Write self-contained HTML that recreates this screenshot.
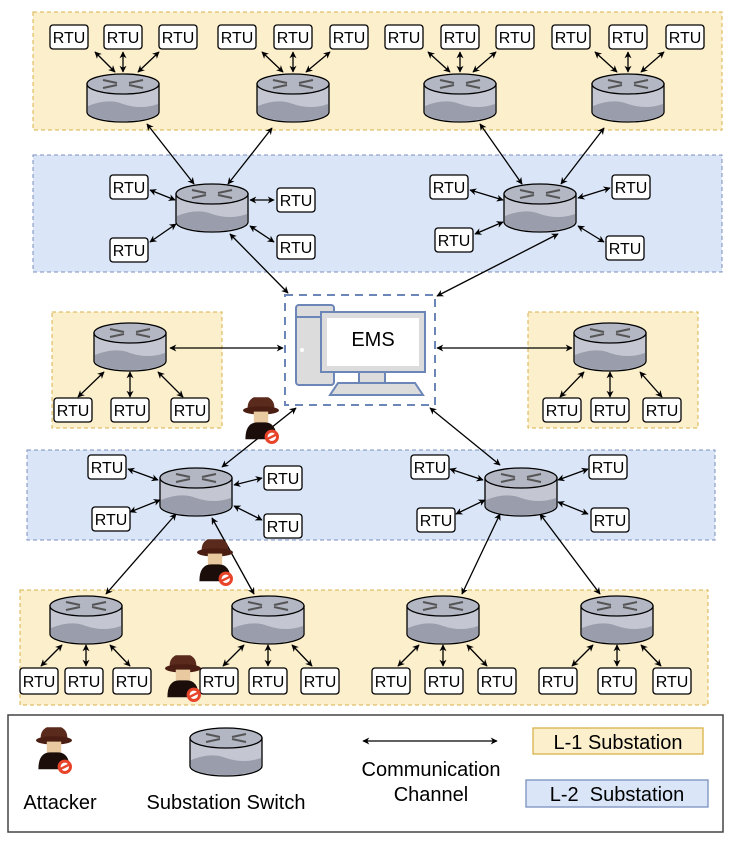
<!DOCTYPE html>
<html><head><meta charset="utf-8"><style>
body{margin:0;background:#fff}
svg{display:block;font-family:"Liberation Sans",sans-serif}
.r rect{fill:#fff;stroke:#000;stroke-width:1.3}
.r text{font-size:16px;text-anchor:middle}
.a{stroke:#000;stroke-width:1.3;fill:none;marker-start:url(#ah);marker-end:url(#ah)}
.lg{font-size:20px;text-anchor:middle}
</style></head><body>
<svg width="735" height="843" viewBox="0 0 735 843">
<defs>
<marker id="ah" viewBox="0 0 10 10" refX="9" refY="5" markerWidth="7" markerHeight="7" orient="auto-start-reverse" markerUnits="userSpaceOnUse"><path d="M0,0L10,5L0,10L3,5z" fill="#000"/></marker>
<g id="sw">
<path d="M-36,0 V28 A36,10 0 0 0 36,28 V0 Z" fill="#c4c7d2" stroke="#000" stroke-width="1.3"/>
<path d="M-35,22 Q-15,14 0,20 Q18,26 35,20 V28 A35,9 0 0 1 -35,28Z" fill="#9a9dab"/>
<ellipse cx="0" cy="0" rx="36" ry="10" fill="#b3b6c3" stroke="#000" stroke-width="1.3"/>
<path d="M-20,-4 L-6,-1 M20,4 L6,1 M20,-4 L6,-1 M-20,4 L-6,1" stroke="#555" stroke-width="2"/>
</g>
<g id="atk0">
<path d="M-11,2 Q-12,-6 -6,-9 L6,-9 Q12,-6 11,2" fill="#5a2a1c"/>
<ellipse cx="0" cy="2" rx="15" ry="3.5" fill="#4a1e12"/>
<rect x="-6" y="3" width="12" height="11" fill="#e8c9a0"/>
<path d="M-13,26 Q-13,12 -3,12 L3,12 Q13,12 13,26Z" fill="#1a0d0a"/>
<circle cx="9" cy="24" r="6" fill="#e8442a"/><circle cx="9" cy="24" r="3.5" fill="#fff"/><path d="M5,26 L13,22" stroke="#e8442a" stroke-width="2"/>
</g>
<g id="atk"><use href="#atk0" transform="scale(1.2)"/></g>
</defs>

<rect x="33" y="12" width="689" height="118" fill="#fcefcc" stroke="#d8b24a" stroke-dasharray="4,3"/>
<rect x="33" y="155" width="689" height="117" fill="#dae6f7" stroke="#7a8fbf" stroke-dasharray="4,3"/>
<rect x="52" y="312" width="170" height="116" fill="#fcefcc" stroke="#d8b24a" stroke-dasharray="4,3"/>
<rect x="528" y="312" width="170" height="116" fill="#fcefcc" stroke="#d8b24a" stroke-dasharray="4,3"/>
<rect x="27" y="450" width="688" height="90" fill="#dae6f7" stroke="#7a8fbf" stroke-dasharray="4,3"/>
<rect x="20" y="590" width="688" height="115" fill="#fcefcc" stroke="#d8b24a" stroke-dasharray="4,3"/>
<rect x="8" y="715" width="715" height="117" fill="#fff" stroke="#444" stroke-width="1.5"/>

<g class="a">
<path d="M95,52 L115,72"/><path d="M123,52 V72"/><path d="M159,52 L138,72"/>
<path d="M262,52 L283,72"/><path d="M293,52 V72"/><path d="M330,52 L306,72"/>
<path d="M428,52 L450,72"/><path d="M460,52 V72"/><path d="M496,52 L473,72"/>
<path d="M595,52 L617,72"/><path d="M628,52 V72"/><path d="M664,52 L641,72"/>
<path d="M147,124 L194,184"/><path d="M272,128 L228,184"/>
<path d="M480,124 L522,184"/><path d="M604,128 L561,184"/>
<path d="M150,190 L175,200"/><path d="M274,200 L250,200"/><path d="M150,242 L176,224"/><path d="M274,242 L250,226"/>
<path d="M470,190 L503,200"/><path d="M610,188 L578,198"/><path d="M475,234 L503,222"/><path d="M604,242 L578,226"/>
<path d="M230,234 L288,293"/><path d="M558,234 L437,296"/>
<path d="M170,348 L283,348"/><path d="M437,348 L572,348"/>
<path d="M104,372 L78,397"/><path d="M130,372 V397"/><path d="M158,372 L183,397"/>
<path d="M584,372 L560,397"/><path d="M610,372 V397"/><path d="M640,372 L662,397"/>
<path d="M296,408 L222,467"/><path d="M430,408 L500,465"/>
<path d="M128,469 L158,480"/><path d="M262,478 L234,485"/><path d="M130,512 L160,500"/><path d="M262,520 L234,506"/>
<path d="M450,469 L483,480"/><path d="M588,469 L558,480"/><path d="M456,514 L485,500"/><path d="M588,514 L558,502"/>
<path d="M176,514 L106,594"/><path d="M212,518 L254,594"/>
<path d="M500,514 L462,594"/><path d="M540,514 L600,594"/>
<g id="bl"><path d="M62,645 L41,666"/><path d="M86,645 V666"/><path d="M110,645 L130,666"/></g>
<use href="#bl" x="182"/><use href="#bl" x="357"/><use href="#bl" x="531"/>
<path d="M363,741 L497,741"/>
</g>

<use href="#sw" x="123" y="84"/><use href="#sw" x="293" y="84"/><use href="#sw" x="460" y="84"/><use href="#sw" x="628" y="84"/>
<use href="#sw" x="212" y="194"/><use href="#sw" x="540" y="194"/>
<use href="#sw" x="130" y="333"/><use href="#sw" x="610" y="333"/>
<use href="#sw" x="196" y="478"/><use href="#sw" x="521" y="478"/>
<use href="#sw" x="86" y="606"/><use href="#sw" x="268" y="606"/><use href="#sw" x="443" y="606"/><use href="#sw" x="617" y="606"/>
<use href="#sw" x="226" y="738"/>

<g class="r">
<rect x="50" y="25" width="38" height="24" rx="3"/><text x="69" y="43">RTU</text>
<rect x="104" y="25" width="38" height="24" rx="3"/><text x="123" y="43">RTU</text>
<rect x="159" y="25" width="38" height="24" rx="3"/><text x="178" y="43">RTU</text>
<rect x="218" y="25" width="38" height="24" rx="3"/><text x="237" y="43">RTU</text>
<rect x="274" y="25" width="38" height="24" rx="3"/><text x="293" y="43">RTU</text>
<rect x="330" y="25" width="38" height="24" rx="3"/><text x="349" y="43">RTU</text>
<rect x="385" y="25" width="38" height="24" rx="3"/><text x="404" y="43">RTU</text>
<rect x="441" y="25" width="38" height="24" rx="3"/><text x="460" y="43">RTU</text>
<rect x="496" y="25" width="38" height="24" rx="3"/><text x="515" y="43">RTU</text>
<rect x="552" y="25" width="38" height="24" rx="3"/><text x="571" y="43">RTU</text>
<rect x="609" y="25" width="38" height="24" rx="3"/><text x="628" y="43">RTU</text>
<rect x="666" y="25" width="38" height="24" rx="3"/><text x="685" y="43">RTU</text>
<rect x="110" y="175" width="38" height="24" rx="3"/><text x="129" y="193">RTU</text>
<rect x="277" y="188" width="38" height="24" rx="3"/><text x="296" y="206">RTU</text>
<rect x="110" y="238" width="38" height="24" rx="3"/><text x="129" y="256">RTU</text>
<rect x="277" y="235" width="38" height="24" rx="3"/><text x="296" y="253">RTU</text>
<rect x="430" y="175" width="38" height="24" rx="3"/><text x="449" y="193">RTU</text>
<rect x="612" y="175" width="38" height="24" rx="3"/><text x="631" y="193">RTU</text>
<rect x="435" y="228" width="38" height="24" rx="3"/><text x="454" y="246">RTU</text>
<rect x="606" y="236" width="38" height="24" rx="3"/><text x="625" y="254">RTU</text>
<rect x="54" y="398" width="38" height="24" rx="3"/><text x="73" y="416">RTU</text>
<rect x="111" y="398" width="38" height="24" rx="3"/><text x="130" y="416">RTU</text>
<rect x="171" y="398" width="38" height="24" rx="3"/><text x="190" y="416">RTU</text>
<rect x="543" y="398" width="38" height="24" rx="3"/><text x="562" y="416">RTU</text>
<rect x="591" y="398" width="38" height="24" rx="3"/><text x="610" y="416">RTU</text>
<rect x="643" y="398" width="38" height="24" rx="3"/><text x="662" y="416">RTU</text>
<rect x="88" y="455" width="38" height="24" rx="3"/><text x="107" y="473">RTU</text>
<rect x="264" y="466" width="38" height="24" rx="3"/><text x="283" y="484">RTU</text>
<rect x="92" y="507" width="38" height="24" rx="3"/><text x="111" y="525">RTU</text>
<rect x="264" y="514" width="38" height="24" rx="3"/><text x="283" y="532">RTU</text>
<rect x="411" y="455" width="38" height="24" rx="3"/><text x="430" y="473">RTU</text>
<rect x="589" y="455" width="38" height="24" rx="3"/><text x="608" y="473">RTU</text>
<rect x="417" y="508" width="38" height="24" rx="3"/><text x="436" y="526">RTU</text>
<rect x="591" y="508" width="38" height="24" rx="3"/><text x="610" y="526">RTU</text>
<rect x="20" y="668" width="38" height="26" rx="3"/><text x="39" y="687">RTU</text>
<rect x="65" y="668" width="38" height="26" rx="3"/><text x="84" y="687">RTU</text>
<rect x="113" y="668" width="38" height="26" rx="3"/><text x="132" y="687">RTU</text>
<rect x="200" y="668" width="38" height="26" rx="3"/><text x="219" y="687">RTU</text>
<rect x="249" y="668" width="38" height="26" rx="3"/><text x="268" y="687">RTU</text>
<rect x="301" y="668" width="38" height="26" rx="3"/><text x="320" y="687">RTU</text>
<rect x="372" y="668" width="38" height="26" rx="3"/><text x="391" y="687">RTU</text>
<rect x="425" y="668" width="38" height="26" rx="3"/><text x="444" y="687">RTU</text>
<rect x="478" y="668" width="38" height="26" rx="3"/><text x="497" y="687">RTU</text>
<rect x="539" y="668" width="38" height="26" rx="3"/><text x="558" y="687">RTU</text>
<rect x="598" y="668" width="38" height="26" rx="3"/><text x="617" y="687">RTU</text>
<rect x="653" y="668" width="38" height="26" rx="3"/><text x="672" y="687">RTU</text>
</g>

<rect x="285" y="295" width="150" height="110" fill="#fff" stroke="#6c86b8" stroke-width="2" stroke-dasharray="8,6"/>
<rect x="296" y="305" width="38" height="80" rx="3" fill="#dcdcdc" stroke="#6c86b8" stroke-width="2"/>
<line x1="296" y1="317" x2="334" y2="317" stroke="#6c86b8" stroke-width="2"/>
<circle cx="302" cy="350" r="2" fill="#fff"/>
<rect x="321" y="312" width="104" height="60" fill="#dcdcdc" stroke="#6c86b8" stroke-width="2"/>
<rect x="327" y="318" width="92" height="48" fill="#fff"/>
<text x="373" y="346" font-size="20" text-anchor="middle">EMS</text>
<rect x="359" y="372" width="26" height="11" fill="#dcdcdc" stroke="#6c86b8" stroke-width="2"/>
<path d="M338,383 H415 L423,395 H330 Z" fill="#dcdcdc" stroke="#6c86b8" stroke-width="2"/>

<use href="#atk" x="261" y="408"/><use href="#atk" x="215" y="550"/><use href="#atk" x="183" y="666"/>

<use href="#atk" x="54" y="738"/>
<text x="60" y="809" class="lg">Attacker</text>
<text x="226" y="809" class="lg">Substation Switch</text>
<text x="431" y="776" class="lg">Communication</text>
<text x="431" y="801" class="lg">Channel</text>
<rect x="533" y="728" width="170" height="26" fill="#fcefcc" stroke="#d8b24a" stroke-width="1.3"/>
<text x="618" y="749" class="lg">L-1 Substation</text>
<rect x="526" y="780" width="182" height="27" fill="#dae6f7" stroke="#7a8fbf" stroke-width="1.3"/>
<text x="617" y="801" class="lg" xml:space="preserve">L-2  Substation</text>
</svg>
</body></html>
